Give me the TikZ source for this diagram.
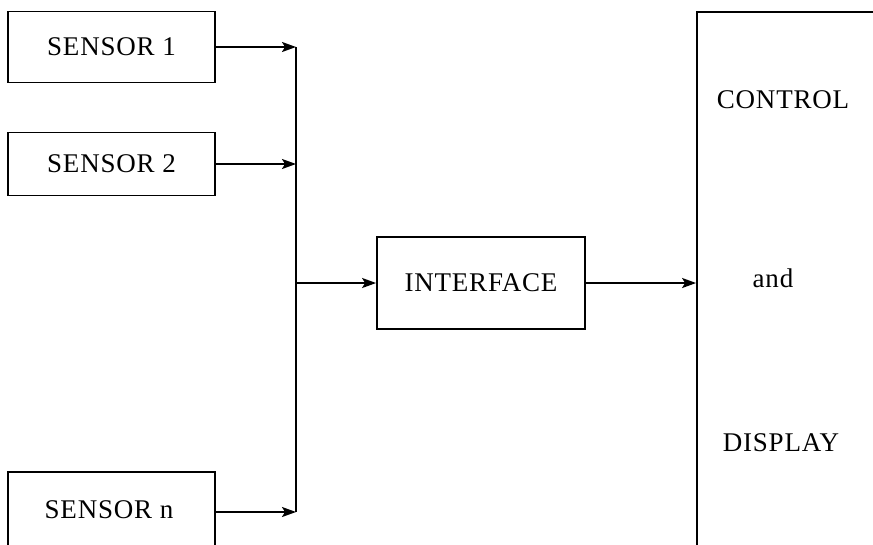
\documentclass[tikz,border=0pt]{standalone}
\usepackage{fontspec}
\setmainfont{Liberation Serif}[LetterSpace=3]
\usetikzlibrary{arrows.meta}
\begin{document}
\begin{tikzpicture}[x=1pt,y=-1pt,
  box/.style={draw,line width=1.8pt,inner sep=0pt,font=\fontsize{27}{31}\selectfont},
  lbl/.style={inner sep=0pt,font=\fontsize{27}{31}\selectfont},
  wire/.style={line width=1.8pt},
  arr/.style={wire,-{Stealth[length=14pt,width=10pt,inset=3pt]}}]
\useasboundingbox (0,0) rectangle (873,544);
\clip (0,0) rectangle (873,544);
\fill[white] (0,0) rectangle (873,544);
\node[box,minimum width=207pt,minimum height=71pt] (s1) at (111.5,47) {SENSOR 1};
\node[box,minimum width=207pt,minimum height=63pt] (s2) at (111.5,164) {SENSOR 2};
\node[box,minimum width=207pt,minimum height=80pt] (sn) at (111.5,512) {};
\node[lbl] (snt) at (109,510) {SENSOR n};
\node[box,minimum width=208pt,minimum height=92pt] (if) at (481,283) {INTERFACE};
\node[box,minimum width=220pt,minimum height=560pt] (cd) at (807,292) {};
\node[lbl] (c1) at (783,100) {CONTROL};
\node[lbl] (c2) at (773,278) {and};
\node[lbl] (c3) at (781,443) {DISPLAY};
\coordinate (x0) at (296,0);
\coordinate (b1) at (x0 |- s1.east);
\coordinate (b2) at (x0 |- s2.east);
\coordinate (bn) at (x0 |- sn.east);
\coordinate (bi) at (x0 |- if.west);
\draw[wire] (b1) -- (bn);
\draw[arr] (s1.east) -- (b1);
\draw[arr] (s2.east) -- (b2);
\draw[arr] (sn.east) -- (bn);
\draw[arr] (bi) -- (if.west);
\draw[arr] (if.east) -- (cd.west |- if.east);
\end{tikzpicture}
\end{document}
